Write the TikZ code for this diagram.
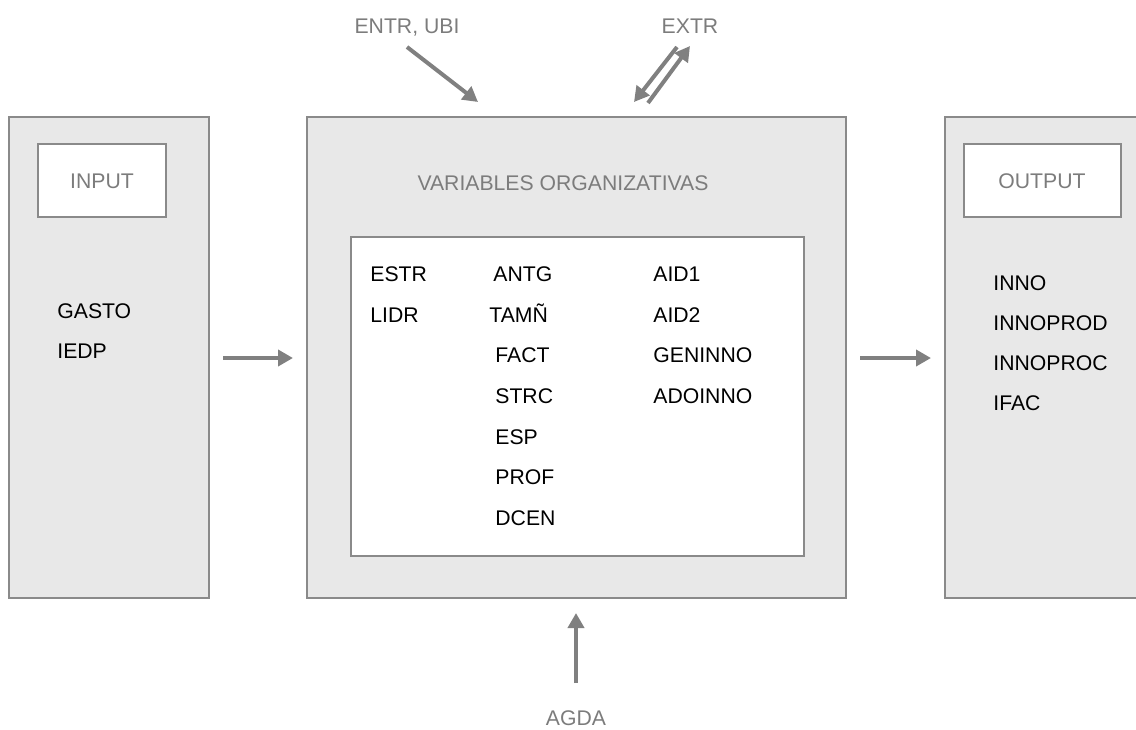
\documentclass[tikz,border=0pt]{standalone}
\usepackage{fontspec}
\setmainfont{Liberation Sans}
\usepackage{xcolor}
\usepackage{tikz}
\usetikzlibrary{arrows.meta,positioning,calc}

\definecolor{panelfill}{HTML}{E8E8E8}
\definecolor{edgegray}{HTML}{8A8A8A}
\definecolor{labelgray}{HTML}{7C7C7C}
\definecolor{arrgray}{HTML}{808080}

\tikzset{
  panel/.style={fill=panelfill,draw=edgegray,line width=1pt},
  tagbox/.style={fill=white,draw=edgegray,line width=1pt},
  var/.style={anchor=west,inner sep=0pt,text height=7.6pt,text depth=0pt,font=\fontsize{10.6}{12}\selectfont},
  tag/.style={inner sep=0pt,text height=7.6pt,text depth=0pt,text=labelgray,font=\fontsize{10.6}{12}\selectfont},
  flow/.style={draw=arrgray,line width=2pt,-{Triangle[length=7.5pt,width=8pt]}}
}

\begin{document}
\begin{tikzpicture}[x=0.5pt,y=-0.5pt]
\useasboundingbox (0,0) rectangle (1136,729);
% Panels
\draw[panel] (9,117) rectangle (209,598);
\draw[panel] (307,117) rectangle (846,598);
\draw[panel] (945,117) rectangle (1160,598);
\draw[tagbox] (38,144) rectangle (166,217);
\draw[tagbox] (964,144) rectangle (1121,217);
\draw[tagbox] (351,237) rectangle (804,556);

% Titles
\node[tag] (input) at (102,181) {INPUT};
\node[tag] (output) at (1042,181) {OUTPUT};
\node[tag] (orgvars) at (563,183) {VARIABLES ORGANIZATIVAS};
\node[tag] (entr) at (407,26) {ENTR, UBI};
\node[tag] (extr) at (690,26) {EXTR};
\node[tag] (agda) at (576,718) {AGDA};

% Input variables
\node[var] (gasto) at (57,311) {GASTO};
\node[var] (iedp) at (57,351) {IEDP};

% Organizational variables
\node[var] (estr) at (370,274) {ESTR};
\node[var] (lidr) at (370,315) {LIDR};
\node[var] (antg) at (493,274) {ANTG};
\node[var] (tamn) at (489,315) {TAMÑ};
\foreach \name/\txt/\y in {fact/FACT/355,strc/STRC/396,esp/ESP/437,prof/PROF/477,dcen/DCEN/518}
  \node[var] (\name) at (495,\y) {\txt};
\foreach \name/\txt/\y in {aida/AID1/274,aidb/AID2/315,gen/GENINNO/355,adop/ADOINNO/396}
  \node[var] (\name) at (653,\y) {\txt};

% Output variables
\foreach \name/\txt/\y in {inno/INNO/283,iprod/INNOPROD/323,iproc/INNOPROC/363,ifac/IFAC/403}
  \node[var] (\name) at (993,\y) {\txt};

% Flows
\coordinate (inA) at (223,358);
\coordinate (inB) at (293,358);
\coordinate (outA) at (860,358);
\coordinate (outB) at (931,358);
\coordinate (entrA) at (407,47);
\coordinate (entrB) at (478,102);
\coordinate (extrA) at (677,47);
\coordinate (extrB) at (634,102);
\coordinate (extrC) at (648,103);
\coordinate (extrD) at (690,46);
\coordinate (agdaA) at (576,683);
\coordinate (agdaB) at (576,613);
\draw[flow] (inA) -- (inB);
\draw[flow] (outA) -- (outB);
\draw[flow] (entrA) -- (entrB);
\draw[flow] (extrA) -- (extrB);
\draw[flow] (extrC) -- (extrD);
\draw[flow] (agdaA) -- (agdaB);
\end{tikzpicture}
\end{document}
